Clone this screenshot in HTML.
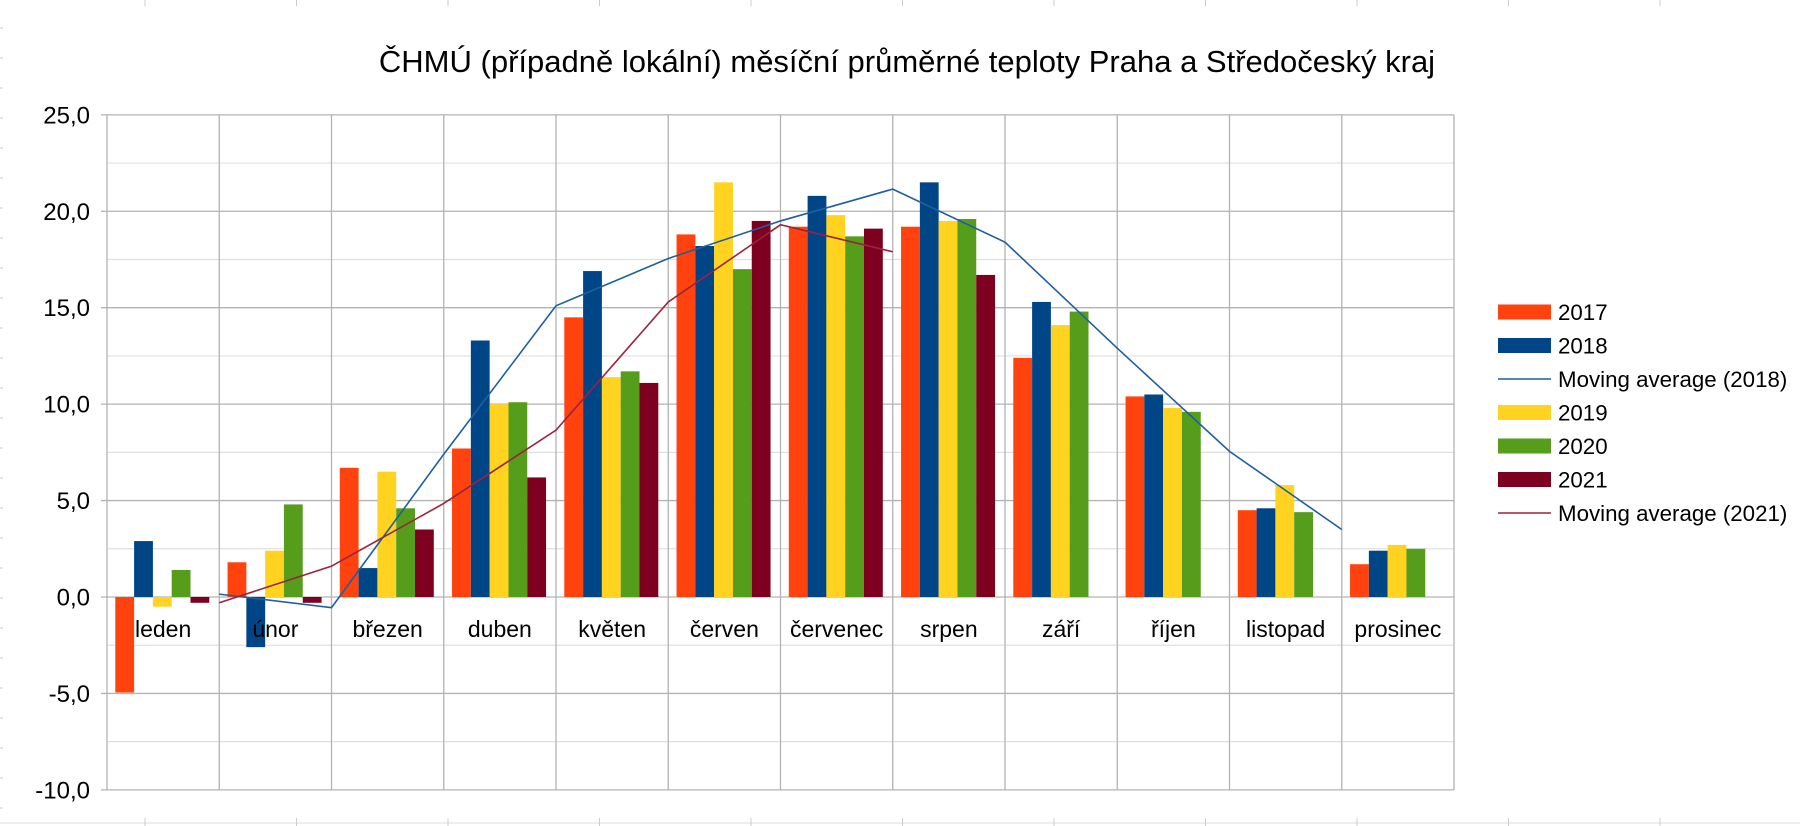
<!DOCTYPE html>
<html><head><meta charset="utf-8"><style>
html,body{margin:0;padding:0;background:#fff;}
svg{display:block;font-family:"Liberation Sans",sans-serif;}
</style></head><body>
<svg id="c" width="1800" height="826" viewBox="0 0 1800 826" xmlns="http://www.w3.org/2000/svg"></svg>
<script>
const s=document.getElementById('c');
let h='';
const L=107,R=1454,T=115,B=790;
const cw=(R-L)/12;
const Y=v=>597-19.286*v;
h+='<line x1="0" y1="823" x2="1800" y2="823" stroke="#ddd" stroke-width="1"/>';
for(let x=145;x<1800;x+=151.5){h+=`<line x1="${x}" y1="0" x2="${x}" y2="6" stroke="#ccc"/><line x1="${x}" y1="818" x2="${x}" y2="826" stroke="#ccc"/>`;}
for(let y=28;y<826;y+=30){h+=`<line x1="0" y1="${y}" x2="3" y2="${y}" stroke="#ccc"/>`;}
for(let v=-7.5;v<25;v+=5){h+=`<line x1="${L}" y1="${Y(v)}" x2="${R}" y2="${Y(v)}" stroke="#e0e0e0" stroke-width="1.2"/>`;}
for(let v=-10;v<=25;v+=5){h+=`<line x1="${L-6}" y1="${Y(v)}" x2="${R}" y2="${Y(v)}" stroke="#b3b3b3" stroke-width="1.3"/>`;
h+=`<text x="90" y="${Y(v)+8.5}" font-size="24" text-anchor="end" fill="#000">${v.toFixed(1).replace('.',',')}</text>`;}
for(let k=0;k<=12;k++){const x=L+k*cw;h+=`<line x1="${x}" y1="${T}" x2="${x}" y2="${B}" stroke="#b3b3b3" stroke-width="1.3"/>`;}
const cols=['#ff420e','#004586','#ffd320','#579d1c','#7e0021'];
const d=[[-4.95,2.9,-0.5,1.4,-0.3],[1.8,-2.6,2.4,4.8,-0.3],[6.7,1.5,6.5,4.6,3.5],[7.7,13.3,10.0,10.1,6.2],[14.5,16.9,11.4,11.7,11.1],[18.8,18.2,21.5,17.0,19.5],[19.2,20.8,19.8,18.7,19.1],[19.2,21.5,19.5,19.6,16.7],[12.4,15.3,14.1,14.8,null],[10.4,10.5,9.8,9.6,null],[4.5,4.6,5.8,4.4,null],[1.7,2.4,2.7,2.5,null]];
const names=['leden','únor','březen','duben','květen','červen','červenec','srpen','září','říjen','listopad','prosinec'];
const bw=18.8,off=8.3;
d.forEach((g,k)=>{g.forEach((v,i)=>{if(v===null)return;const x=L+k*cw+off+i*bw;const y0=Y(0),y1=Y(v);
h+=`<rect x="${x}" y="${Math.min(y0,y1)}" width="${bw}" height="${Math.abs(y1-y0)}" fill="${cols[i]}"/>`;});});
names.forEach((n,k)=>{h+=`<text x="${L+(k+.5)*cw}" y="637" font-size="23" text-anchor="middle" fill="#000">${n}</text>`;});
function ma(i,last){let p=[];for(let k=1;k<=last;k++){const v=(d[k-1][i]+d[k][i])/2;p.push(`${L+k*cw},${Y(v)}`);}return p.join(' ');}
h+=`<polyline points="${ma(1,11)}" fill="none" stroke="#1f5fa0" stroke-width="1.6"/>`;
h+=`<polyline points="${ma(4,7)}" fill="none" stroke="#9a2340" stroke-width="1.6"/>`;
h+=`<text x="907" y="72" font-size="31" text-anchor="middle" fill="#000">ČHMÚ (případně lokální) měsíční průměrné teploty Praha a Středočeský kraj</text>`;
const leg=[['2017','#ff420e',0],['2018','#004586',0],['Moving average (2018)','#1f5fa0',1],['2019','#ffd320',0],['2020','#579d1c',0],['2021','#7e0021',0],['Moving average (2021)','#9a2340',1]];
leg.forEach((l,i)=>{const y=312+i*33.5;
if(l[2])h+=`<line x1="1498" y1="${y}" x2="1551" y2="${y}" stroke="${l[1]}" stroke-width="1.6"/>`;
else h+=`<rect x="1498" y="${y-7.5}" width="53" height="15" fill="${l[1]}"/>`;
h+=`<text x="1558" y="${y+8}" font-size="22.3" fill="#000">${l[0]}</text>`;});
s.innerHTML=h;
</script>
</body></html>
